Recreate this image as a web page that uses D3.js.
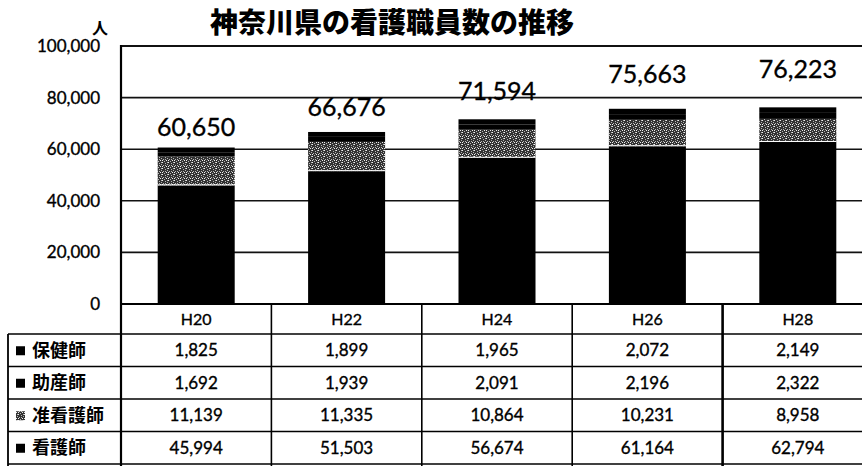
<!DOCTYPE html>
<html>
<head>
<meta charset="utf-8">
<script src="https://cdn.jsdelivr.net/npm/d3@7"></script>
<style>
  html, body { margin: 0; padding: 0; background: #fff; }
  svg { display: block; }
</style>
</head>
<body>
<svg id="chart" width="862" height="466"></svg>
<script>
// 神奈川県の看護職員数の推移 (人)
const years = ["H20", "H22", "H24", "H26", "H28"];
const hokenshi = [1825, 1899, 1965, 2072, 2149];        // 保健師
const josanshi = [1692, 1939, 2091, 2196, 2322];        // 助産師
const junkangoshi = [11139, 11335, 10864, 10231, 8958]; // 准看護師
const kangoshi = [45994, 51503, 56674, 61164, 62794];   // 看護師
const yTicks = [0, 20000, 40000, 60000, 80000, 100000];

const title = "神奈川県の看護職員数の推移";
const unit = "人";

// table rows, top to bottom
const rowNames = ["保健師", "助産師", "准看護師", "看護師"];
const rowValues = [hokenshi, josanshi, junkangoshi, kangoshi];
// stacking order, bottom to top
const stackKeys = ["看護師", "准看護師", "助産師", "保健師"];

const numFont = "Lato, 'Open Sans', sans-serif";
const jpFont = "'Noto Sans CJK JP', sans-serif";

const svg = d3.select("#chart");

const plotLeft = 121, plotRight = 873, plotTop = 46, plotBase = 304;
const x = d3.scaleBand().domain(years).range([plotLeft, plotRight]).paddingInner(0.488).paddingOuter(0.244);
const y = d3.scaleLinear().domain([0, 100000]).range([plotBase, plotTop]);

// stippled fill for 准看護師
const defs = svg.append("defs");
const pat = defs.append("pattern").attr("id", "stipple")
  .attr("width", 6).attr("height", 6).attr("patternUnits", "userSpaceOnUse");
pat.append("rect").attr("width", 6).attr("height", 6).attr("fill", "#333");
[[0,0],[3,1],[1,3],[4,4],[2,5],[5,2],[0,4],[3,3],[5,0]].forEach(([px, py], i) => {
  pat.append("rect").attr("x", px).attr("y", py).attr("width", 1).attr("height", 1)
    .attr("fill", i % 3 === 0 ? "#eee" : "#b8b8b8");
});

const fills = { "看護師": "#000", "准看護師": "url(#stipple)", "助産師": "#000", "保健師": "#000" };

// thickens regular-weight text slightly
const ink = sel => sel.attr("stroke", "#000").attr("stroke-width", 0.35);

// title
svg.append("text").attr("x", 392).attr("y", 33)
  .attr("text-anchor", "middle")
  .style("font-family", jpFont).style("font-weight", 900).style("font-size", "28px")
  .text(title);

// unit
svg.append("text").attr("x", 100).attr("y", 34)
  .attr("text-anchor", "middle")
  .style("font-family", jpFont).style("font-weight", 700).style("font-size", "16px")
  .text(unit);

// gridlines
svg.append("g").selectAll("line").data(yTicks.filter(d => d > 0)).join("line")
  .attr("x1", plotLeft).attr("x2", 862)
  .attr("y1", d => y(d)).attr("y2", d => y(d))
  .attr("stroke", "#111").attr("stroke-width", d => d === 100000 ? 2.2 : 1.6);

// y axis
const yAxis = svg.append("g").attr("transform", `translate(${plotLeft},0)`)
  .call(d3.axisLeft(y).tickValues(yTicks).tickSize(0).tickPadding(21)
    .tickFormat(d3.format(",")));
yAxis.select(".domain").remove();
yAxis.selectAll("text")
  .style("font-family", numFont).style("font-size", "17px")
  .attr("fill", "#000").attr("dy", "0.32em").call(ink);

// bars
const rows = years.map((yr, i) => ({
  year: yr,
  "保健師": hokenshi[i], "助産師": josanshi[i], "准看護師": junkangoshi[i], "看護師": kangoshi[i]
}));
const series = d3.stack().keys(stackKeys)(rows);
svg.append("g").selectAll("g").data(series).join("g")
  .attr("fill", s => fills[s.key])
  .selectAll("rect").data(s => s).join("rect")
  .attr("x", d => x(d.data.year))
  .attr("width", x.bandwidth())
  .attr("y", d => y(d[1]))
  .attr("height", d => y(d[0]) - y(d[1]));

// thin light seam under the stippled segment
svg.append("g").selectAll("line").data(series[1]).join("line")
  .attr("x1", d => x(d.data.year)).attr("x2", d => x(d.data.year) + x.bandwidth())
  .attr("y1", d => y(d[0]) - 0.5).attr("y2", d => y(d[0]) - 0.5)
  .attr("stroke", "#fff").attr("stroke-width", 1);

// total labels
const totals = years.map((_, i) => hokenshi[i] + josanshi[i] + junkangoshi[i] + kangoshi[i]);
const labelLift = [12, 16, 19, 26, 29];
svg.append("g").selectAll("text").data(totals).join("text")
  .attr("x", (d, i) => x(years[i]) + x.bandwidth() / 2)
  .attr("y", (d, i) => y(d) - labelLift[i])
  .attr("text-anchor", "middle")
  .style("font-family", numFont).style("font-size", "25px")
  .text(d => d3.format(",")(d)).call(ink);

// y axis line
svg.append("line").attr("x1", plotLeft).attr("x2", plotLeft).attr("y1", plotTop - 1).attr("y2", 466)
  .attr("stroke", "#000").attr("stroke-width", 2.2);

// data table
const headTop = plotBase, headBot = 334, rowH = 32.5, tableLeft = 8;
const tbl = svg.append("g");
const colEdges = years.map(yr => x(yr) - x.step() * x.paddingInner() / 2);
colEdges.push(plotRight);

// horizontal rules
const hLines = [headTop, headBot, headBot + rowH, headBot + 2 * rowH, headBot + 3 * rowH, headBot + 4 * rowH];
tbl.selectAll("line.h").data(hLines).join("line").attr("class", "h")
  .attr("x1", (d, i) => i === 0 ? plotLeft : tableLeft).attr("x2", 862)
  .attr("y1", d => d).attr("y2", d => d)
  .attr("stroke", "#000").attr("stroke-width", (d, i) => i === 0 ? 2.2 : 1.6);

// vertical rules
tbl.selectAll("line.v").data(colEdges.slice(1, 5)).join("line").attr("class", "v")
  .attr("x1", d => d).attr("x2", d => d)
  .attr("y1", headTop).attr("y2", 466)
  .attr("stroke", "#000").attr("stroke-width", (d, i) => i === 3 ? 2.6 : 1.6);
tbl.append("line").attr("x1", tableLeft).attr("x2", tableLeft)
  .attr("y1", headBot).attr("y2", 466).attr("stroke", "#000").attr("stroke-width", 1.8);

// header
tbl.selectAll("text.head").data(years).join("text").attr("class", "head")
  .attr("x", d => x(d) + x.bandwidth() / 2)
  .attr("y", (headTop + headBot) / 2).attr("dy", "0.36em")
  .attr("text-anchor", "middle")
  .style("font-family", numFont).style("font-size", "16px")
  .text(d => d).call(ink);

// row labels with legend keys
const keyFill = { "保健師": "#000", "助産師": "#000", "准看護師": "url(#stipple)", "看護師": "#000" };
rowNames.forEach((name, r) => {
  const cy = headBot + rowH * r + rowH / 2;
  tbl.append("rect").attr("x", 16).attr("y", cy - 4).attr("width", 9).attr("height", 9)
    .attr("fill", keyFill[name]);
  tbl.append("text").attr("x", 32).attr("y", cy).attr("dy", "0.36em")
    .style("font-family", jpFont).style("font-weight", 700).style("font-size", "18px")
    .text(name);
  tbl.selectAll(null).data(rowValues[r]).join("text")
    .attr("x", (d, i) => x(years[i]) + x.bandwidth() / 2)
    .attr("y", cy).attr("dy", "0.36em")
    .attr("text-anchor", "middle")
    .style("font-family", numFont).style("font-size", "17px")
    .text(d => d3.format(",")(d)).call(ink);
});
</script>
</body>
</html>
